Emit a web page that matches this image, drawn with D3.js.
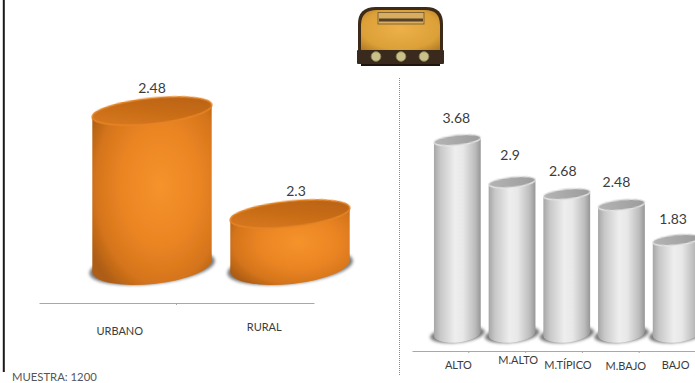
<!DOCTYPE html>
<html>
<head>
<meta charset="utf-8">
<script src="https://d3js.org/d3.v7.min.js"></script>
<style>
  html, body { margin: 0; padding: 0; background: #fff; overflow: hidden; }
  svg { display: block; }
  text { font-family: Lato, "Open Sans", sans-serif; fill: #3c3c3c; }
</style>
</head>
<body>
<svg id="chart" width="695" height="383"></svg>
<script>
// Household radio listening by area and by socioeconomic level
const areaCategories = ["URBANO", "RURAL"];
const areaValues = [2.48, 2.3];
const levelCategories = ["ALTO", "M.ALTO", "M.TÍPICO", "M.BAJO", "BAJO"];
const levelValues = [3.68, 2.9, 2.68, 2.48, 1.83];
const sampleNote = "MUESTRA: 1200";

const svg = d3.select("#chart");
const defs = svg.append("defs");

function addStops(g, stops) {
  stops.forEach(([o, c]) => g.append("stop").attr("offset", o).attr("stop-color", c));
}
// Shading that gives the columns their round look
addStops(defs.append("radialGradient").attr("id", "orangeSide")
  .attr("cx", "57%").attr("cy", "45%").attr("r", "68%"),
  [[0, "#f6932b"], [0.5, "#ea8423"], [0.8, "#d4741b"], [1, "#ad5d13"]]);
addStops(defs.append("linearGradient").attr("id", "orangeTop")
  .attr("x1", "0").attr("y1", "1").attr("x2", "1").attr("y2", "0"),
  [[0, "#dc7b1e"], [0.55, "#c66b17"], [1, "#b56011"]]);
addStops(defs.append("linearGradient").attr("id", "graySide"),
  [[0, "#a6a6a6"], [0.14, "#c8c8c8"], [0.45, "#eeeeee"], [0.62, "#e8e8e8"], [0.88, "#bcbcbc"], [1, "#969696"]]);
addStops(defs.append("linearGradient").attr("id", "grayTop"),
  [[0, "#b4b4b4"], [1, "#9c9c9c"]]);
defs.append("filter").attr("id", "soft").attr("x", "-20%").attr("y", "-50%").attr("width", "140%").attr("height", "200%")
  .append("feGaussianBlur").attr("stdDeviation", 1.5);
defs.append("filter").attr("id", "softEdge").attr("x", "-5%").attr("y", "-5%").attr("width", "110%").attr("height", "110%")
  .append("feGaussianBlur").attr("stdDeviation", 0.5);

// Draws tilted-ellipse cylinders from a band scale and a value scale
function drawCylinders(layer, categories, values, x, y, opt) {
  const tilt = opt.tilt * Math.PI / 180;
  const rx = x.bandwidth() / 2;
  const ex = rx * Math.cos(tilt), ey = rx * Math.sin(tilt);
  const bars = layer.selectAll("g").data(categories.map((c, i) => ({ c, v: values[i] }))).join("g");
  const cx = d => x(d.c) + rx;

  bars.append("ellipse")
    .attr("cx", cx).attr("cy", opt.base + 1)
    .attr("rx", rx + opt.shadow).attr("ry", opt.baseRy - 1)
    .attr("transform", d => `rotate(${-opt.tilt} ${cx(d)} ${opt.base})`)
    .attr("fill", "#7a7a7a").attr("filter", "url(#soft)");

  bars.append("path")
    .attr("d", d => {
      const c = cx(d), t = y(d.v);
      return `M${c - ex},${t + ey} L${c - ex},${opt.base + ey}` +
        ` A${rx},${opt.baseRy} ${-opt.tilt} 0 0 ${c + ex},${opt.base - ey}` +
        ` L${c + ex},${t - ey} Z`;
    })
    .attr("fill", `url(#${opt.side})`)
    .attr("filter", "url(#softEdge)");

  bars.append("ellipse")
    .attr("cx", cx).attr("cy", d => y(d.v))
    .attr("rx", rx).attr("ry", opt.ry)
    .attr("transform", d => `rotate(${-opt.tilt} ${cx(d)} ${y(d.v)})`)
    .attr("fill", `url(#${opt.top})`)
    .attr("stroke", opt.rim).attr("stroke-width", opt.rimWidth)
    .attr("filter", "url(#softEdge)");

  return bars;
}

// Axis with its category labels, each label shifted by its own nudge
function drawAxis(axisX, yPos, nudges) {
  const g = svg.append("g").attr("transform", `translate(0,${yPos})`)
    .call(d3.axisBottom(axisX).tickSize(0).tickPadding(0));
  g.select(".domain").attr("stroke", "#a8a8a8").attr("stroke-width", 1.2);
  g.selectAll(".tick text")
    .attr("font-size", 11)
    .style("font-family", "Lato, 'Open Sans', sans-serif")
    .attr("fill", "#3c3c3c")
    .attr("dx", (d, i) => nudges[i][0])
    .attr("dy", (d, i) => nudges[i][1]);
  axisX.domain().slice(1).forEach(c => {
    const tx = axisX(c);
    g.append("line").attr("x1", tx).attr("x2", tx).attr("y1", 0).attr("y2", 2).attr("stroke", "#a8a8a8");
  });
}

// Left panel: by area (the value axis does not start at zero)
const areaX = d3.scaleBand().domain(areaCategories).range([83, 359]).paddingInner(0.13).paddingOuter(0.065);
const areaY = d3.scaleLinear().domain([2.209, 2.48]).range([266, 111]);
const areaBars = drawCylinders(svg.append("g"), areaCategories, areaValues, areaX, areaY,
  { tilt: 6, ry: 12.7, base: 266, baseRy: 18, shadow: 3, side: "orangeSide", top: "orangeTop", rim: "#e58426", rimWidth: 1.6 });
const areaLabelDx = [0, 6];
areaBars.append("text")
  .attr("x", (d, i) => areaX(d.c) + areaX.bandwidth() / 2 + areaLabelDx[i])
  .attr("y", d => areaY(d.v) - 18)
  .attr("text-anchor", "middle").attr("font-size", 14).text(d => d.v);

const areaAxisX = d3.scaleBand().domain(areaCategories).range([39, 314]);
drawAxis(areaAxisX, 303, [[12, 32], [19, 28]]);

// Right panel: by socioeconomic level
const levelX = d3.scaleBand().domain(levelCategories).range([430, 703.5]).paddingInner(0.14).paddingOuter(0.07);
const levelY = d3.scaleLinear().domain([0, 3.68]).range([338.7, 140]);
const levelBars = drawCylinders(svg.append("g"), levelCategories, levelValues, levelX, levelY,
  { tilt: 6, ry: 5.2, base: 333.5, baseRy: 9, shadow: 4, side: "graySide", top: "grayTop", rim: "#e6e6e6", rimWidth: 1.2 });
const levelLabelDx = [-1, -2, -4, -5, -3];
const levelLabelDy = [17, 22, 18, 18, 16];
levelBars.append("text")
  .attr("x", (d, i) => levelX(d.c) + levelX.bandwidth() / 2 + levelLabelDx[i])
  .attr("y", (d, i) => levelY(d.v) - levelLabelDy[i])
  .attr("text-anchor", "middle").attr("font-size", 14).text(d => d.v);

const levelAxisX = d3.scaleBand().domain(levelCategories).range([412, 696]);
drawAxis(levelAxisX, 351, [[18, 18], [21, 13], [14, 18], [15, 19], [8, 18]]);

// Panel frame, divider and sample note
svg.append("line").attr("x1", 3.8).attr("x2", 3.8).attr("y1", 0).attr("y2", 372)
  .attr("stroke", "#1a1a1a").attr("stroke-width", 2);
svg.append("line").attr("x1", 399.5).attr("x2", 399.5).attr("y1", 78).attr("y2", 376)
  .attr("stroke", "#8a8a8a").attr("stroke-dasharray", "1,1");
svg.append("text").attr("x", 12).attr("y", 381).attr("font-size", 11.3).style("fill", "#555").text(sampleNote);

// Radio icon above the panels
const radio = svg.append("g");
addStops(defs.append("radialGradient").attr("id", "radioBody").attr("cx", "50%").attr("cy", "45%").attr("r", "70%"),
  [[0, "#eeb14a"], [0.7, "#dca038"], [1, "#b07a24"]]);
radio.append("path").attr("d", "M358,58 L358,24 Q358,7 376,7 L426,7 Q443,7 443,24 L443,58 Z").attr("fill", "#3e2a18");
radio.append("path").attr("d", "M361,52 L361,25 Q361,10 377,10 L425,10 Q440,10 440,25 L440,52 Z").attr("fill", "url(#radioBody)");
radio.append("rect").attr("x", 378).attr("y", 12.5).attr("width", 46).attr("height", 11.5).attr("fill", "#d8ad62").attr("stroke", "#6b5530").attr("stroke-width", 0.8);
radio.append("rect").attr("x", 379).attr("y", 18.5).attr("width", 44).attr("height", 3).attr("fill", "#544227");
radio.append("rect").attr("x", 357).attr("y", 50).attr("width", 87).attr("height", 14).attr("rx", 1).attr("fill", "#3a2a1e");
radio.append("rect").attr("x", 361).attr("y", 64).attr("width", 79).attr("height", 2).attr("fill", "#1e150e");
radio.selectAll("circle").data([376, 401, 424]).join("circle")
  .attr("cx", d => d).attr("cy", 56.5).attr("r", 4.8)
  .attr("fill", "#c9c08a").attr("stroke", "#8d8455").attr("stroke-width", 1);
</script>
</body>
</html>
